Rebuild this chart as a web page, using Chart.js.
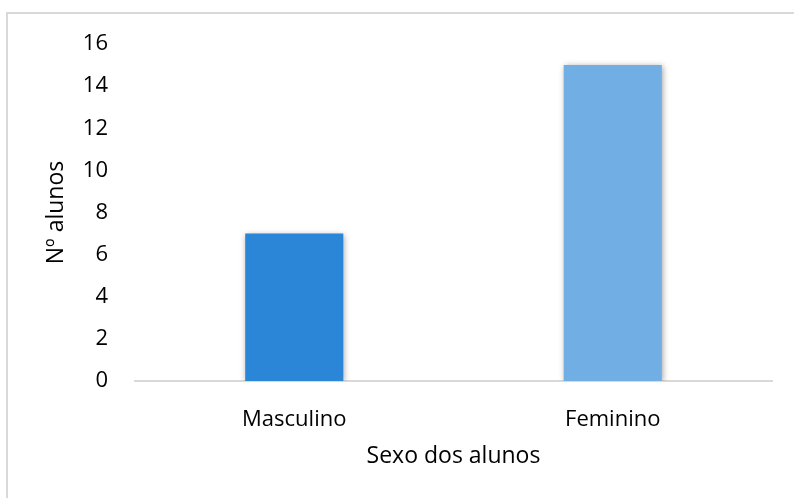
<!DOCTYPE html>
<html>
<head>
<meta charset="utf-8">
<script src="https://cdn.jsdelivr.net/npm/chart.js@4"></script>
<style>
    body { margin: 0; background: #fff; }
    #cornice { position: absolute; left: 6px; top: 12px; width: 800px; height: 500px; border-left: 2px solid #d9d9d9; border-top: 2px solid #d9d9d9; }
    #chartContainer { position: absolute; left: 0; top: 0; width: 794px; height: 498px; }
</style>
</head>
<body>
<div id="cornice"></div>
<div id="chartContainer"><canvas id="myChart" width="794" height="498"></canvas></div>
<script>
const categorie = ['Masculino', 'Feminino']
const alunos = [7, 15]
const coloriBarre = ['#2b86d8', '#70aee4']
const tickY = [0, 2, 4, 6, 8, 10, 12, 14, 16]
const titoloX = 'Sexo dos alunos'
const titoloY = 'Nº alunos'

const fontBase = { family: 'Open Sans', size: 22 }

// ombra leggera sotto le barre, come nel grafico di excel
const ombraBarre = {
    id: 'ombraBarre',
    beforeDatasetsDraw(chart) {
        const ctx = chart.ctx
        ctx.save()
        ctx.shadowColor = 'rgba(0,0,0,0.35)'
        ctx.shadowBlur = 6
        ctx.shadowOffsetX = 1
        ctx.shadowOffsetY = 1
    },
    afterDatasetsDraw(chart) {
        chart.ctx.restore()
    }
}

function creaGrafico(dataX, dataY) {
    const ctx = document.getElementById('myChart').getContext('2d')
    const myChart = new Chart(ctx, {
        type: 'bar',
        data: {
            labels: dataX,
            datasets: [{
                data: dataY,
                backgroundColor: coloriBarre,
                borderWidth: 0,
                barPercentage: 0.308,
                categoryPercentage: 1
            }]
        },
        options: {
            responsive: false,
            animation: false,
            layout: { padding: { left: 9, right: 22, top: 44, bottom: 28 } },
            plugins: {
                legend: { display: false },
                tooltip: { enabled: false }
            },
            scales: {
                x: {
                    grid: { display: false },
                    border: { color: '#d9d9d9', width: 2 },
                    ticks: { color: '#000', font: fontBase, padding: 18 },
                    title: { display: true, text: titoloX, color: '#000', font: { family: 'Open Sans', size: 23 }, padding: 0 },
                    afterFit: (scale) => { scale.height = 89 }
                },
                y: {
                    min: tickY[0],
                    max: tickY[tickY.length - 1],
                    grid: { display: false },
                    border: { display: false },
                    afterBuildTicks: (scale) => { scale.ticks = tickY.map(v => ({ value: v })) },
                    ticks: { color: '#000', font: fontBase, padding: 19 },
                    title: { display: true, text: titoloY, color: '#000', font: { family: 'Open Sans', size: 23 }, padding: { top: 34, bottom: 0 } },
                    afterFit: (scale) => { scale.width = 126 }
                }
            }
        },
        plugins: [ombraBarre]
    })
}

creaGrafico(categorie, alunos)
</script>
</body>
</html>
